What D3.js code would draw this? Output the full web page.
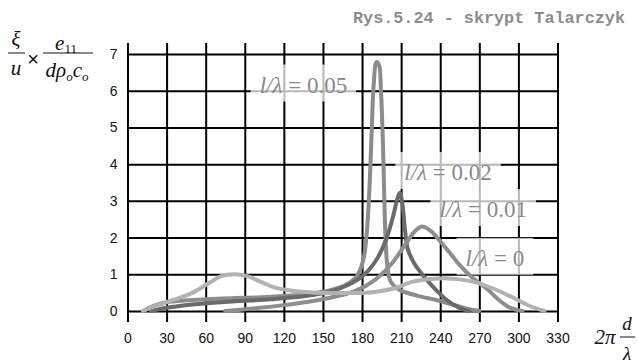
<!DOCTYPE html>
<html>
<head>
<meta charset="utf-8">
<script src="https://cdn.jsdelivr.net/npm/d3@7"></script>
<style>
body { margin: 0; background: #fff; }
svg { display: block; }
</style>
</head>
<body>
<svg id="chart" width="638" height="363"></svg>
<script>
// x ticks (2*pi*d/lambda), y ticks
var xTicks = [0, 30, 60, 90, 120, 150, 180, 210, 240, 270, 300, 330];
var yTicks = [0, 1, 2, 3, 4, 5, 6, 7];

// curves: [2*pi*d/lambda, value]
var curve005 = [[12,0],[20,0.14],[30,0.24],[45,0.29],[60,0.32],[80,0.35],[100,0.37],[120,0.41],[140,0.47],[155,0.56],[168,0.72],[176,0.95],[181,1.4],[184,2.3],[186,3.6],[187.5,5],[189,6.2],[191,6.78],[193,6.7],[194.5,6],[196,4.6],[197,3.2],[198,2],[199.5,1.2],[202,0.8],[209,0.57],[222,0.42],[237,0.3],[252,0.15],[262,0.05],[270,0]];
var curve002 = [[18,0],[30,0.09],[50,0.18],[80,0.26],[110,0.32],[135,0.4],[155,0.52],[170,0.72],[182,1.0],[192,1.45],[199,2.0],[204,2.6],[207,3.05],[209,3.22],[211,2.9],[213,2.2],[215,1.7],[220,1.3],[228,0.92],[236,0.6],[245,0.3],[255,0.08],[262,0]];
var curve001 = [[75,0],[100,0.08],[120,0.16],[140,0.26],[158,0.38],[175,0.55],[190,0.85],[203,1.3],[213,1.8],[220,2.15],[226,2.3],[232,2.2],[240,1.9],[247,1.6],[255,1.25],[265,0.9],[276,0.6],[285,0.3],[293,0.1],[303,0]];
var curve000 = [[12,0],[20,0.12],[35,0.3],[50,0.5],[62,0.75],[72,0.95],[82,1.0],[92,0.95],[102,0.8],[112,0.65],[125,0.56],[145,0.5],[170,0.49],[190,0.52],[205,0.62],[219,0.8],[235,0.88],[250,0.88],[265,0.8],[280,0.62],[295,0.38],[308,0.15],[320,0]];

var seriesNames = ["0.05", "0.02", "0.01", "0"];
var seriesData = [curve005, curve002, curve001, curve000];
var seriesColors = ["#8c8c8c", "#6a6a6a", "#8e8e8e", "#b2b2b2"];
// label anchor (text centre x, baseline) in data units
var labelAnchors = [[135, 5.95], [246, 3.57], [273, 2.56], [282, 1.23]];

var svg = d3.select("#chart");

var x = d3.scaleLinear().domain([0, 330]).range([127.5, 557.5]);
var y = d3.scaleLinear().domain([0, 7]).range([311, 54]);

var gridTop = 43, gridBottom = 322;

// vertical grid + x labels
var xAxis = d3.axisBottom(x)
	.tickValues(xTicks)
	.tickSize(gridBottom - gridTop)
	.tickPadding(11)
	.tickFormat(d3.format("d"));

var gx = svg.append("g")
	.attr("transform", "translate(0," + gridTop + ")")
	.call(xAxis);
gx.select(".domain").remove();
gx.selectAll("line").attr("stroke", "#000").attr("stroke-width", 2);
gx.selectAll("text")
	.attr("fill", "#111")
	.style("font-family", "Liberation Sans, Arial, sans-serif")
	.style("font-size", "14px");

// horizontal grid + y labels
var yAxis = d3.axisLeft(y)
	.tickValues(yTicks)
	.tickSize(x(330) - x(0))
	.tickPadding(10)
	.tickFormat(d3.format("d"));

var gy = svg.append("g")
	.attr("transform", "translate(" + x(330) + ",0)")
	.call(yAxis);
gy.select(".domain").remove();
gy.selectAll("line").attr("stroke", "#000").attr("stroke-width", 2);
gy.selectAll("text")
	.attr("fill", "#111")
	.style("font-family", "Liberation Sans, Arial, sans-serif")
	.style("font-size", "14px");

// label boxes sit under the curves, text on top
var boxes = svg.append("g");

var line = d3.line()
	.x(function(d) { return x(d[0]); })
	.y(function(d) { return y(d[1]); })
	.curve(d3.curveCatmullRom.alpha(0.5));

var curvesG = svg.append("g");
curvesG.selectAll("path")
	.data(seriesData)
	.enter().append("path")
	.attr("d", line)
	.attr("fill", "none")
	.attr("stroke", function(d, i) { return seriesColors[i]; })
	.attr("stroke-width", 4)
	.attr("stroke-linejoin", "round")
	.attr("stroke-linecap", "round");

var texts = svg.append("g").selectAll("text")
	.data(seriesNames)
	.enter().append("text")
	.attr("x", function(d, i) { return x(labelAnchors[i][0]); })
	.attr("y", function(d, i) { return y(labelAnchors[i][1]); })
	.attr("text-anchor", "middle")
	.attr("fill", "#8a8a8a")
	.style("font-family", "Liberation Serif, Times New Roman, serif")
	.style("font-size", "23px");

texts.append("tspan").style("font-style", "italic").text("l/λ");
texts.append("tspan").text(function(d) { return " = " + d; });

texts.each(function() {
	var b = this.getBBox();
	boxes.append("rect")
		.attr("x", b.x - 9)
		.attr("y", b.y - 8)
		.attr("width", b.width + 18)
		.attr("height", b.height + 12)
		.attr("fill", "#fff")
		.attr("opacity", 0.72);
});

// title
svg.append("text")
	.attr("x", 625)
	.attr("y", 23)
	.attr("text-anchor", "end")
	.attr("fill", "#8c8c8c")
	.attr("font-family", "'Liberation Mono', 'Courier New', monospace")
	.attr("font-weight", "bold")
	.attr("font-size", 17)
	.attr("textLength", 272)
	.attr("lengthAdjust", "spacingAndGlyphs")
	.text("Rys.5.24 - skrypt Talarczyk");

// y axis label: xi/u x e11/(d rho_o c_o)
var serif = "Liberation Serif, Times New Roman, serif";
var yl = svg.append("g").attr("fill", "#111").style("font-family", serif);
yl.append("text").attr("x", 16).attr("y", 46).attr("text-anchor", "middle")
	.style("font-style", "italic").style("font-size", "21px").text("ξ");
yl.append("line").attr("x1", 8).attr("x2", 25).attr("y1", 53).attr("y2", 53)
	.attr("stroke", "#111").attr("stroke-width", 1);
yl.append("text").attr("x", 16).attr("y", 75).attr("text-anchor", "middle")
	.style("font-style", "italic").style("font-size", "21px").text("u");
yl.append("text").attr("x", 33).attr("y", 66).attr("text-anchor", "middle")
	.style("font-family", "Liberation Sans, Arial, sans-serif")
	.style("font-size", "20px").text("×");
var num = yl.append("text").attr("x", 66).attr("y", 50).attr("text-anchor", "middle");
num.append("tspan").style("font-style", "italic").style("font-size", "21px").text("e");
num.append("tspan").attr("dy", 3).style("font-size", "13px").text("11");
yl.append("line").attr("x1", 43).attr("x2", 93).attr("y1", 53).attr("y2", 53)
	.attr("stroke", "#111").attr("stroke-width", 1);
var den = yl.append("text").attr("x", 67).attr("y", 77).attr("text-anchor", "middle")
	.style("font-style", "italic").style("font-size", "21px");
den.append("tspan").text("dρ");
den.append("tspan").attr("dy", 4).style("font-size", "13px").text("o");
den.append("tspan").attr("dy", -4).text("c");
den.append("tspan").attr("dy", 4).style("font-size", "13px").text("o");

// x axis label: 2 pi d / lambda
var xl = svg.append("g").attr("fill", "#111").style("font-family", serif);
xl.append("text").attr("x", 605).attr("y", 344).attr("text-anchor", "middle")
	.style("font-style", "italic").style("font-size", "21px").text("2π");
xl.append("text").attr("x", 627).attr("y", 330).attr("text-anchor", "middle")
	.style("font-style", "italic").style("font-size", "19px").text("d");
xl.append("line").attr("x1", 620).attr("x2", 635).attr("y1", 337).attr("y2", 337)
	.attr("stroke", "#111").attr("stroke-width", 1);
xl.append("text").attr("x", 627).attr("y", 360).attr("text-anchor", "middle")
	.style("font-style", "italic").style("font-size", "19px").text("λ");
</script>
</body>
</html>
